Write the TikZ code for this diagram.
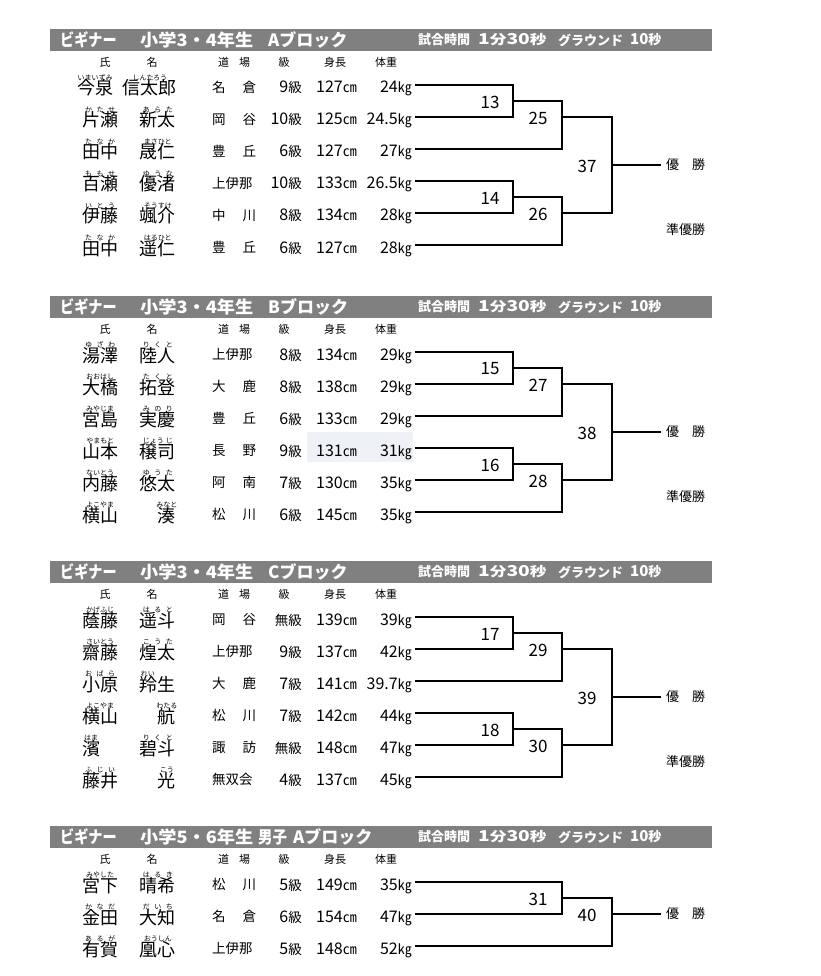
\documentclass[tikz,border=0pt]{standalone}
\usepackage{fontspec}
\setmainfont{Noto Sans CJK JP}
\usetikzlibrary{calc}
\definecolor{barg}{RGB}{128,128,128}
\definecolor{hl}{RGB}{238,241,246}
\newcommand\fsz[1]{\fontsize{#1}{#1}\selectfont}
\newcommand\rsp[2]{\makebox[#1pt][s]{#2}}
\newcommand\rl[2]{\makebox[#1pt][l]{#2}}
\newcommand\dojo[2]{#1\hspace{17pt}#2}
\newcommand\nokyu{\fsz{13.5}無}
\def\sx{82}
\def\gx{176}
\tikzset{
  hdr/.style={anchor=west, inner sep=0pt, text=white, font=\fsz{17}\bfseries},
  hdrs/.style={anchor=west, inner sep=0pt, text=white, font=\fsz{13}\bfseries},
  col/.style={inner sep=0pt, font=\fsz{11}},
  nm/.style={inner sep=0pt, font=\fsz{18}},
  rb/.style={inner sep=0pt, font=\fsz{7}, anchor=base},
  dat/.style={inner sep=0pt, font=\fsz{13.5}, anchor=base east},
  num/.style={inner sep=0pt, font=\fsz{17}},
  fin/.style={inner sep=0pt, font=\fsz{13}, anchor=west},
  brk/.style={line width=1.1pt}
}
\newcommand\prow[9]{%
  \node[nm, anchor=base west] (#1s) at (\sx,\ry+10) {#2};
  \path (#1s.base) ++(0,-14.8) node[rb] (#1sr) {#3};
  \node[nm, anchor=base east] (#1g) at (\gx,\ry+10) {#4};
  \path (#1g.base) ++(0,-14.8) node[rb] (#1gr) {#5};
  \node[dat, anchor=base west] (#1d) at (212,\ry+7.5) {#6};
  \node[dat] (#1k) at (302,\ry+8) {\fsz{16}#7\fsz{13.5}級};
  \node[dat] (#1h) at (357,\ry+8) {\fsz{16}#8\fsz{14}㎝};
  \node[dat] (#1w) at (412,\ry+8) {\fsz{16}#9\fsz{14}㎏};
  \coordinate (#1L) at (415,\ry);
}
\newcommand\blockhead[1]{%
  \fill[barg] (50,29) rectangle (712,51);
  \node[hdr] (#1t0) at (60,40) {\scalebox{0.83}[1]{ビギナー}};
  \node[hdrs] (#1t1) at (418,40) {試合時間};
  \node[hdrs] (#1t2) at (478,40) {\scalebox{1.28}[1]{\fsz{15}1\fsz{13}分\fsz{15}30\fsz{13}秒}};
  \node[hdrs] (#1t3) at (558,40) {グラウンド};
  \node[hdrs] (#1t4) at (630,40) {\fsz{15}10\fsz{13}秒};
  \node[col] (#1c1) at (105,62) {氏};
  \node[col] (#1c2) at (152,62) {名};
  \node[col] (#1c3) at (234,62) {道\hspace{10pt}場};
  \node[col] (#1c4) at (284,62) {級};
  \node[col] (#1c5) at (335,62) {身長};
  \node[col] (#1c6) at (386,62) {体重};
}
\newcommand\bsix[6]{%
  \coordinate (#1X1) at (513,101);
  \coordinate (#1Y1) at (562,117);
  \coordinate (#1X2) at (513,197);
  \coordinate (#1Y2) at (562,213);
  \coordinate (#1Z) at (612,165);
  \coordinate (#1W) at (661,165);
  \draw[brk] (#11L) -| (#1X1) |- (#12L);
  \draw[brk] (#1X1) -| (#1Y1) |- (#13L);
  \draw[brk] (#14L) -| (#1X2) |- (#15L);
  \draw[brk] (#1X2) -| (#1Y2) |- (#16L);
  \draw[brk] (#1Y1) -| (#1Z) |- (#1Y2);
  \draw[brk] (#1Z) -- (#1W);
  \node[num] (#1m1) at (490,102) {#2};
  \node[num] (#1m2) at (538,118) {#3};
  \node[num] (#1m5) at (587,166) {#6};
  \node[num] (#1m3) at (490,198) {#4};
  \node[num] (#1m4) at (538,214) {#5};
  \node[fin] (#1win) at (666,165) {優　勝};
  \node[fin] (#1ru) at (666,230) {準優勝};
}
\begin{document}
\begin{tikzpicture}[x=1pt,y=-1pt]
\useasboundingbox (0,0) rectangle (820,976);
\fill[white] (0,0) rectangle (820,976);
% ---------------- Block A
\begin{scope}
\blockhead{a}
\node[hdr] (at5) at (140,40) {\scalebox{1.07}[1]{小学3・4年生}};
\node[hdr] (at6) at (268,40) {Aブロック};
\def\sx{77}\def\gx{177}
\def\ry{85}\prow{a1}{今泉}{いまいずみ}{信太郎}{しんたろう}{\dojo{名}{倉}}{9}{127}{24}
\def\sx{82}\def\gx{176}
\def\ry{117}\prow{a2}{片瀬}{\rsp{30}{か た せ}}{新太}{\rsp{30}{あ ら た}}{\dojo{岡}{谷}}{10}{125}{24.5}
\def\ry{149}\prow{a3}{田中}{\rsp{30}{た な か}}{晟仁}{まさひと}{\dojo{豊}{丘}}{6}{127}{27}
\def\ry{181}\prow{a4}{百瀬}{\rsp{30}{も も せ}}{優渚}{\rsp{30}{ゆ う な}}{上伊那}{10}{133}{26.5}
\def\ry{213}\prow{a5}{伊藤}{\rsp{30}{い と う}}{颯介}{そうすけ}{\dojo{中}{川}}{8}{134}{28}
\def\ry{245}\prow{a6}{田中}{\rsp{30}{た な か}}{遥仁}{はるひと}{\dojo{豊}{丘}}{6}{127}{28}
\bsix{a}{13}{25}{14}{26}{37}
\end{scope}
% ---------------- Block B
\begin{scope}[shift={(0,267)}]
\blockhead{b}
\node[hdr] (bt5) at (140,40) {\scalebox{1.07}[1]{小学3・4年生}};
\node[hdr] (bt6) at (268,40) {Bブロック};
\fill[hl] (307,165) rectangle (413,195);
\def\ry{85}\prow{b1}{湯澤}{\rsp{30}{ゆ ざ わ}}{陸人}{\rsp{30}{り く と}}{上伊那}{8}{134}{29}
\def\ry{117}\prow{b2}{大橋}{おおはし}{拓登}{\rsp{30}{た く と}}{\dojo{大}{鹿}}{8}{138}{29}
\def\ry{149}\prow{b3}{宮島}{みやじま}{実慶}{\rsp{30}{み の り}}{\dojo{豊}{丘}}{6}{133}{29}
\def\ry{181}\prow{b4}{山本}{やまもと}{穣司}{\rsp{30}{じょう じ}}{\dojo{長}{野}}{9}{131}{31}
\def\ry{213}\prow{b5}{内藤}{ないとう}{悠太}{\rsp{30}{ゆ う た}}{\dojo{阿}{南}}{7}{130}{35}
\def\ry{245}\prow{b6}{横山}{よこやま}{湊}{みなと}{\dojo{松}{川}}{6}{145}{35}
\bsix{b}{15}{27}{16}{28}{38}
\end{scope}
% ---------------- Block C
\begin{scope}[shift={(0,532)}]
\blockhead{c}
\node[hdr] (ct5) at (140,40) {\scalebox{1.07}[1]{小学3・4年生}};
\node[hdr] (ct6) at (268,40) {Cブロック};
\def\ry{85}\prow{c1}{蔭藤}{かげふじ}{遥斗}{\rsp{30}{は る と}}{\dojo{岡}{谷}}{\nokyu}{139}{39}
\def\ry{117}\prow{c2}{齋藤}{さいとう}{煌太}{\rsp{30}{こ う た}}{上伊那}{9}{137}{42}
\def\ry{149}\prow{c3}{小原}{\rsp{30}{お ば ら}}{羚生}{\rl{34}{れい}}{\dojo{大}{鹿}}{7}{141}{39.7}
\def\ry{181}\prow{c4}{横山}{よこやま}{航}{わたる}{\dojo{松}{川}}{7}{142}{44}
\def\ry{213}\prow{c5}{濱}{はま}{碧斗}{\rsp{30}{り く と}}{\dojo{諏}{訪}}{\nokyu}{148}{47}
\def\ry{245}\prow{c6}{藤井}{\rsp{30}{ふ じ い}}{光}{こう}{無双会}{4}{137}{45}
\bsix{c}{17}{29}{18}{30}{39}
\end{scope}
% ---------------- Block D
\begin{scope}[shift={(0,797)}]
\blockhead{d}
\node[hdr] (dt5) at (140,40) {\scalebox{1.07}[1]{小学5・6年生}};
\node[hdr] (dt6) at (258,40) {\scalebox{0.85}[1]{男子}};
\node[hdr] (dt7) at (293,40) {Aブロック};
\def\ry{85}\prow{d1}{宮下}{みやした}{晴希}{\rsp{30}{は る き}}{\dojo{松}{川}}{5}{149}{35}
\def\ry{117}\prow{d2}{金田}{\rsp{30}{か な だ}}{大知}{\rsp{30}{だ い ち}}{\dojo{名}{倉}}{6}{154}{47}
\def\ry{149}\prow{d3}{有賀}{\rsp{30}{あ る が}}{凰心}{おうしん}{上伊那}{5}{148}{52}
\coordinate (dX1) at (562,101);
\coordinate (dY) at (612,117);
\coordinate (dW) at (661,117);
\draw[brk] (d1L) -| (dX1) |- (d2L);
\draw[brk] (dX1) -| (dY) |- (d3L);
\draw[brk] (dY) -- (dW);
\node[num] (dm1) at (538,102) {31};
\node[num] (dm2) at (587,118) {40};
\node[fin] (dwin) at (666,117) {優　勝};
\end{scope}
\end{tikzpicture}
\end{document}
